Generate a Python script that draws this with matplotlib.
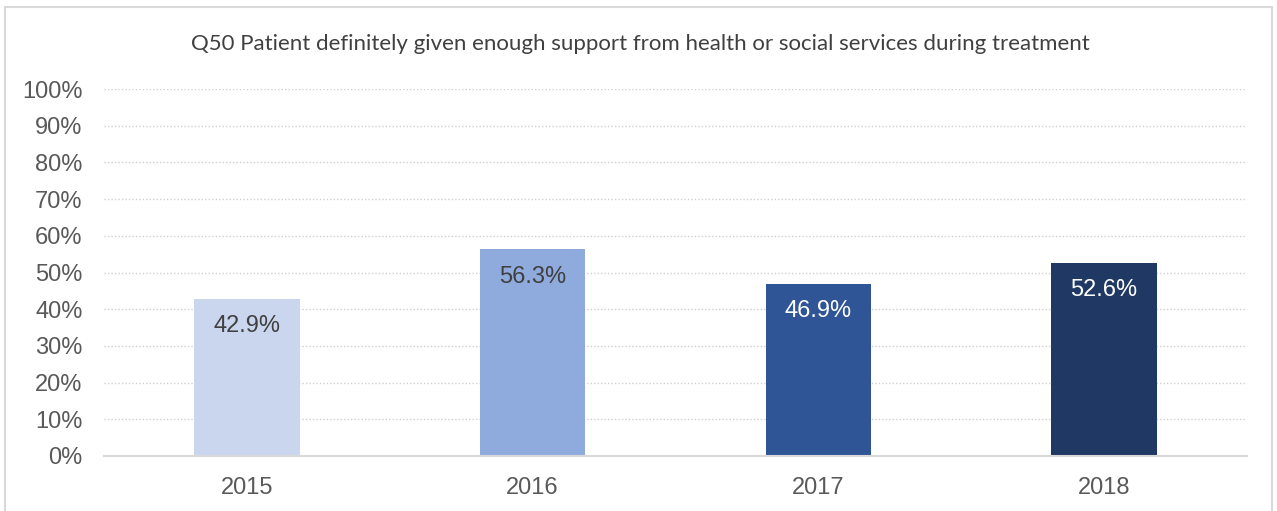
import matplotlib.pyplot as plt
from matplotlib.patches import Rectangle

years = ["2015", "2016", "2017", "2018"]
values = [42.9, 56.3, 46.9, 52.6]
colors = ["#C9D6EE", "#8FAADC", "#2F5597", "#203864"]
label_colors = ["#404040", "#404040", "#FFFFFF", "#FFFFFF"]
title = "Q50 Patient definitely given enough support from health or social services during treatment"

plt.rcParams['font.family'] = ['Liberation Sans', 'DejaVu Sans']

fig = plt.figure(figsize=(12.77, 5.11), dpi=100)
ax = fig.add_axes([104 / 1277, 1 - 456 / 511, 1143 / 1277, 367 / 511])

x = range(len(years))
bars = ax.bar(x, values, width=0.37, color=colors, zorder=2)

for b, v, c in zip(bars, values, label_colors):
    ax.text(b.get_x() + b.get_width() / 2, v - 7.5, f"{v:.1f}%", ha="center", va="center",
            fontsize=17, color=c, zorder=3)

ax.set_xlim(-0.5, 3.5)
ax.set_ylim(0, 100)
ax.set_yticks(range(0, 101, 10))
ax.set_yticklabels([f"{t}%" for t in range(0, 101, 10)])
ax.set_xticks(list(x))
ax.set_xticklabels(years)
ax.tick_params(axis="both", length=0, labelsize=17, labelcolor="#595959")
ax.tick_params(axis="x", pad=15)
ax.tick_params(axis="y", pad=15.5)

ax.grid(axis="y", color="#D0D0D0", linestyle=(0, (1, 1.5)), linewidth=1, zorder=0)
for s in ["top", "right", "left"]:
    ax.spines[s].set_visible(False)
ax.spines["bottom"].set_color("#D9D9D9")
ax.spines["bottom"].set_linewidth(1.5)

fig.text(640 / 1277, 1 - 44 / 511, title, ha="center", va="center", fontsize=16,
         color="#404040", family=["Lato", "DejaVu Sans"])

# chart border
fig.patches.append(Rectangle((5 / 1277, -0.01), 1267 / 1277, 1 - 7 / 511 + 0.01,
                             transform=fig.transFigure, fill=False,
                             edgecolor="#D9D9D9", linewidth=1.5))

fig.savefig("out.png", dpi=100)
